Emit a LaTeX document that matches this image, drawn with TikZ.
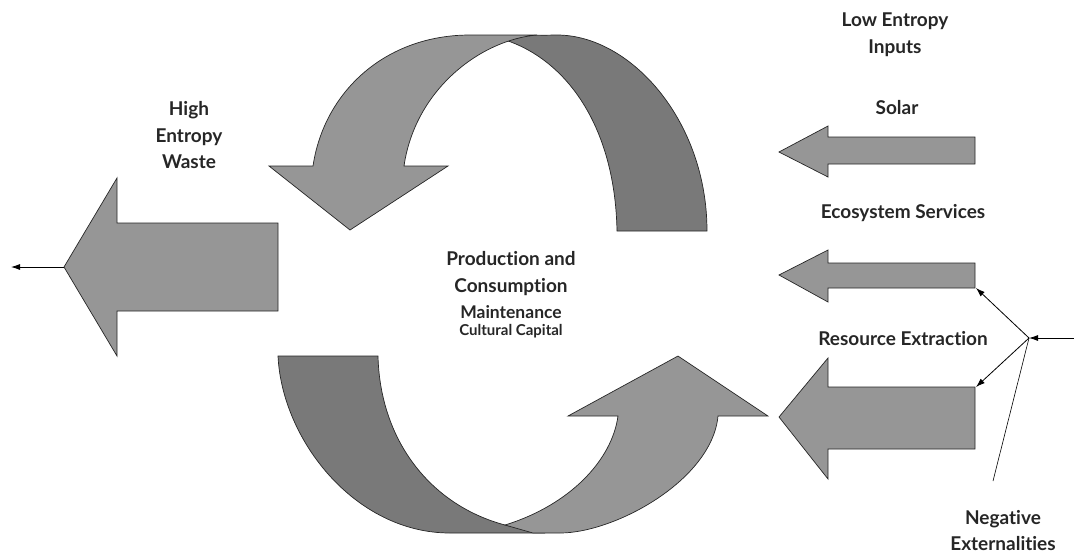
\documentclass[tikz,border=0pt]{standalone}
\usepackage{fontspec}
\setmainfont{Lato}[Ligatures={NoCommon,NoRare}]
\usetikzlibrary{arrows.meta}
\definecolor{lightfill}{RGB}{150,150,150}
\definecolor{darkfill}{RGB}{121,121,121}
\definecolor{txt}{RGB}{38,38,38}
\tikzset{
  blockL/.style={fill=lightfill,draw=black!85,line width=0.7pt,line join=miter},
  blockD/.style={fill=darkfill,draw=black!85,line width=0.7pt,line join=miter},
  conn/.style={draw=black,line width=0.8pt,-{Latex[length=9pt,width=6pt]}},
  plain/.style={draw=black,line width=0.6pt},
  lbl/.style={text=txt,align=center,inner sep=0pt,font=\fontsize{19}{26.5}\selectfont\bfseries},
  lblm/.style={text=txt,align=center,inner sep=0pt,font=\fontsize{17.5}{20}\selectfont\bfseries},
  lbls/.style={text=txt,align=center,inner sep=0pt,font=\fontsize{15}{17}\selectfont\bfseries}
}
\begin{document}
\begin{tikzpicture}[x=1pt,y=-1pt]
\useasboundingbox (0,0) rectangle (1074,558);
% ---- top cycle arc
\path[blockD] (617,231) -- (707,231) .. controls (707,120) and (630,35) .. (557,35)
  -- (490,36) .. controls (560,50) and (615,120) .. (617,231) -- cycle;
\path[blockL] (404,166) -- (448,166) -- (350,230) -- (269,166) -- (313,166)
  .. controls (324,92) and (385,35) .. (470,35) -- (537,35)
  .. controls (480,40) and (415,90) .. (404,166) -- cycle;
% ---- bottom cycle arc
\path[blockD] (278,356) -- (378,356) .. controls (380,440) and (430,505) .. (505,525)
  -- (545,533) -- (450,533) .. controls (355,533) and (282,440) .. (278,356) -- cycle;
\path[blockL] (618,416) -- (568,416) -- (678,356) -- (768,416) -- (718,416)
  .. controls (712,480) and (615,533) .. (560,533) -- (533,533) -- (505,525)
  .. controls (570,505) and (612,460) .. (618,416) -- cycle;
% ---- waste arrow
\path[blockL] (278,223) -- (117,223) -- (117,178) -- (64,267) -- (117,356)
  -- (117,311) -- (278,311) -- cycle;
% ---- input arrows
\path[blockL] (975,137) -- (828,137) -- (828,126) -- (779,152) -- (828,177)
  -- (828,164) -- (975,164) -- cycle;
\path[blockL] (975,263) -- (828,263) -- (828,250) -- (779,275) -- (828,302)
  -- (828,288) -- (975,288) -- cycle;
\path[blockL] (975,387) -- (828,387) -- (828,358) -- (779,417) -- (828,479)
  -- (828,449) -- (975,449) -- cycle;
% ---- connectors
\coordinate (wtip) at (64,267);
\coordinate (wend) at (11,267);
\coordinate (nin) at (1074,338);
\coordinate (nj) at (1029,338);
\coordinate (ecoR) at (976,288);
\coordinate (resR) at (976,387);
\coordinate (negend) at (993,481);
\draw[conn] (wtip) -- (wend);
\draw[conn] (nin) -- (nj);
\draw[conn] (nj) -- (ecoR);
\draw[conn] (nj) -- (resR);
\draw[plain] (nj) -- (negend);
% ---- labels
\node[lbl] (waste) at (189,135.5) {High\\Entropy\\Waste};
\node[lbl] (low) at (895,34.5) {Low Entropy\\Inputs};
\node[lbl] (solar) at (897,108) {Solar};
\node[lbl] (eco) at (903,213) {Ecosystem Services};
\node[lbl] (res) at (903,339) {Resource Extraction};
\node[lbl] (neg) at (1003,530.5) {Negative\\Externalities};
\node[lbl] (prod) at (511,273.5) {Production and\\Consumption};
\node[lblm] (maint) at (511,312) {Maintenance};
\node[lbls] (cult) at (511,331) {Cultural Capital};
\end{tikzpicture}
\end{document}
